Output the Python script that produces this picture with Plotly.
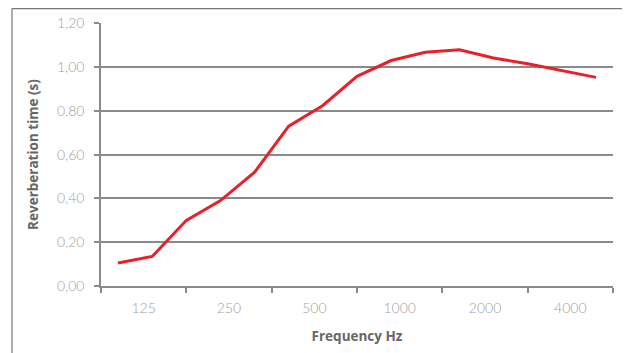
import plotly.graph_objects as go

# Data
band_labels = ["125", "250", "500", "1000", "2000", "4000"]
band_centers = [0.5, 1.5, 2.5, 3.5, 4.5, 5.5]
band_edges = [0, 1, 2, 3, 4, 5, 6]
point_pos = [0.2, 0.6, 1.0, 1.4, 1.8, 2.2, 2.6, 3.0, 3.4, 3.8, 4.2, 4.6, 5.0, 5.4, 5.8]
reverb_time = [0.105, 0.135, 0.30, 0.39, 0.52, 0.73, 0.825, 0.958, 1.03, 1.068, 1.079, 1.042, 1.015, 0.985, 0.953]
y_ticks = [0, 0.2, 0.4, 0.6, 0.8, 1.0, 1.2]

tick_font = dict(family="Lato, 'Open Sans', sans-serif", size=14, color="#a0a0a0", weight=300)
title_font = dict(family="'Open Sans', Lato, sans-serif", size=13.5, color="#666666")

fig = go.Figure()
fig.add_trace(go.Scatter(
    x=point_pos, y=reverb_time, mode="lines",
    line=dict(color="#e8202a", width=3),
    showlegend=False, hoverinfo="skip",
))

fig.update_xaxes(
    range=[0, 6], tickmode="array", tickvals=band_centers, ticktext=band_labels,
    showgrid=False, zeroline=False, showline=True, linecolor="#8a8a8a", linewidth=1.5,
    ticks="", tickfont=tick_font, ticklabelstandoff=8, automargin=False,
    title=dict(text="<b>Frequency Hz</b>", font=title_font, standoff=17),
    minor=dict(tickmode="array", tickvals=band_edges, ticks="outside",
               ticklen=5, tickcolor="#8a8a8a", tickwidth=1.5, showgrid=False),
)
fig.update_yaxes(
    range=[0, 1.2015], tickmode="array", tickvals=y_ticks, tickformat=".2f",
    showgrid=True, gridcolor="#8a8a8a", gridwidth=1.5, zeroline=False,
    showline=True, linecolor="#8a8a8a", linewidth=1.5,
    ticks="outside", ticklen=5, tickcolor="#8a8a8a", tickwidth=1.5,
    tickfont=tick_font, ticklabelstandoff=7, automargin=False,
    title=dict(text="<b>Reverberation time (s)</b>", font=title_font, standoff=15),
)

# outer frame (partially visible)
fig.add_shape(type="line", xref="paper", yref="paper", x0=-0.1738, x1=1.1, y0=1.055, y1=1.055,
              line=dict(color="#777777", width=1.2))
fig.add_shape(type="line", xref="paper", yref="paper", x0=-0.1738, x1=-0.1738, y0=1.055, y1=-0.3,
              line=dict(color="#777777", width=1.2))

fig.update_layout(
    width=622, height=345,
    margin=dict(l=93, r=17, t=15, b=67),
    paper_bgcolor="white", plot_bgcolor="white",
    separators=",.",
)

fig.write_html("out.html")
